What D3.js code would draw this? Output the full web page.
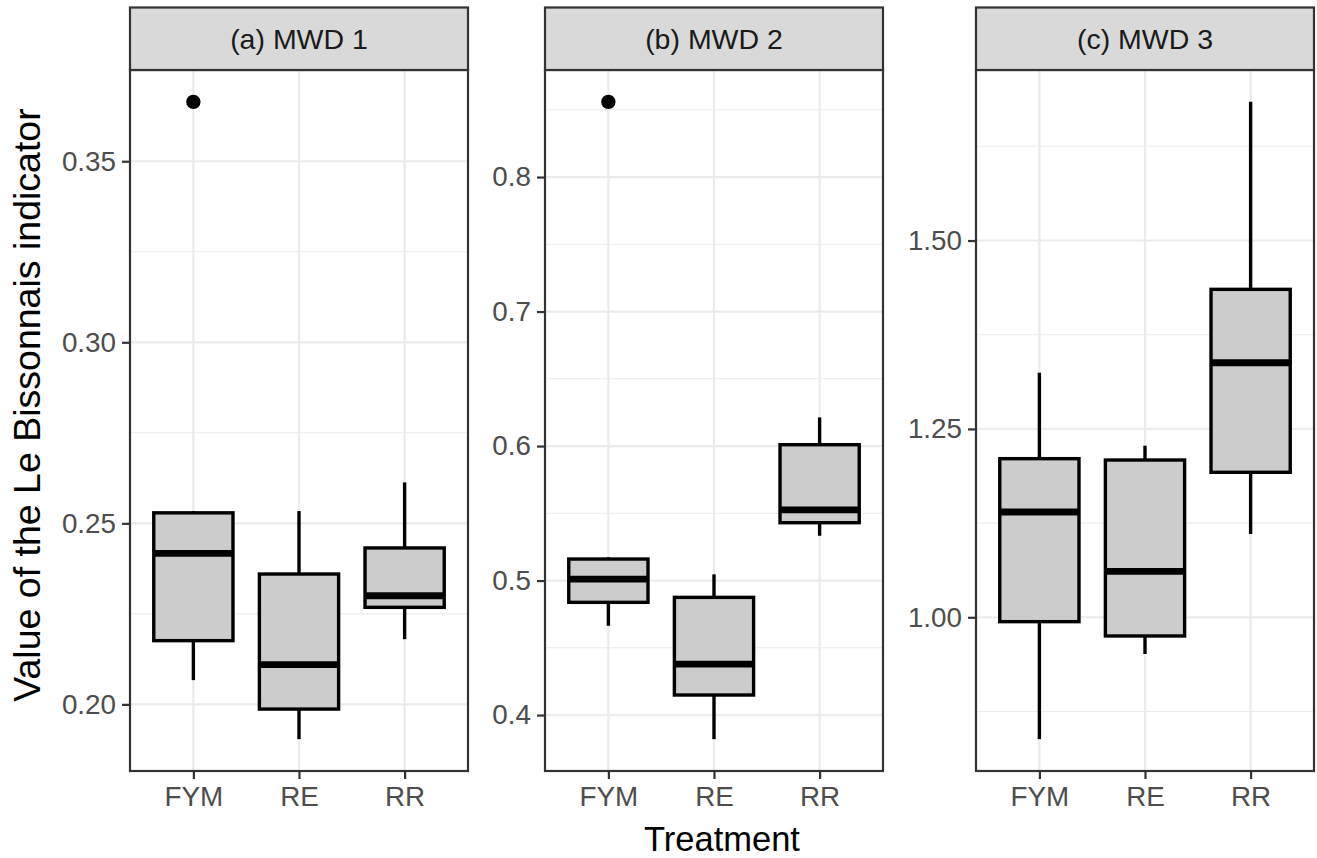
<!DOCTYPE html>
<html>
<head>
<meta charset="utf-8">
<script src="https://cdn.jsdelivr.net/npm/d3@7"></script>
<style>
  html, body { margin: 0; padding: 0; background: #ffffff; }
  svg { display: block; font-family: "Liberation Sans", Arial, Helvetica, sans-serif; }
</style>
</head>
<body>
<svg id="chart" width="1317" height="858"></svg>
<script>
// ---------------- data ----------------
const categories = ["FYM", "RE", "RR"];
const panelTitles = ["(a) MWD 1", "(b) MWD 2", "(c) MWD 3"];

// box statistics per panel: [lowerWhisker, Q1, median, Q3, upperWhisker]
const mwd1Stats = [
  [0.2067, 0.2176, 0.2417, 0.2529, 0.2534],
  [0.1904, 0.1987, 0.2110, 0.2360, 0.2534],
  [0.2180, 0.2268, 0.2300, 0.2432, 0.2613]
];
const mwd2Stats = [
  [0.4664, 0.4838, 0.5011, 0.5160, 0.5173],
  [0.3821, 0.4149, 0.4379, 0.4875, 0.5046],
  [0.5333, 0.5430, 0.5526, 0.6010, 0.6213]
];
const mwd3Stats = [
  [0.8383, 0.9942, 1.1397, 1.2105, 1.3246],
  [0.9513, 0.9752, 1.0610, 1.2087, 1.2277],
  [1.1105, 1.1924, 1.3378, 1.4352, 1.6840]
];
// outliers per panel: [category, value]
const mwd1Outliers = [["FYM", 0.3664]];
const mwd2Outliers = [["FYM", 0.8559]];
const mwd3Outliers = [];

// axis breaks
const mwd1Ticks = [0.20, 0.25, 0.30, 0.35];
const mwd1TickLabels = ["0.20", "0.25", "0.30", "0.35"];
const mwd1Minor = [0.225, 0.275, 0.325, 0.375];
const mwd2Ticks = [0.4, 0.5, 0.6, 0.7, 0.8];
const mwd2TickLabels = ["0.4", "0.5", "0.6", "0.7", "0.8"];
const mwd2Minor = [0.35, 0.45, 0.55, 0.65, 0.75, 0.85];
const mwd3Ticks = [1.00, 1.25, 1.50];
const mwd3TickLabels = ["1.00", "1.25", "1.50"];
const mwd3Minor = [0.875, 1.125, 1.375, 1.625];

const xTitle = "Treatment";
const yTitle = "Value of the Le Bissonnais indicator";

// ---------------- layout ----------------
const panels = [
  { title: panelTitles[0], stats: mwd1Stats, outliers: mwd1Outliers, ticks: mwd1Ticks, labels: mwd1TickLabels, minor: mwd1Minor, x0: 130, x1: 468 },
  { title: panelTitles[1], stats: mwd2Stats, outliers: mwd2Outliers, ticks: mwd2Ticks, labels: mwd2TickLabels, minor: mwd2Minor, x0: 545, x1: 883 },
  { title: panelTitles[2], stats: mwd3Stats, outliers: mwd3Outliers, ticks: mwd3Ticks, labels: mwd3TickLabels, minor: mwd3Minor, x0: 976, x1: 1314 }
];
const stripTop = 7.5, panelTop = 70, panelBottom = 771;
const tickFont = 27.8, stripFont = 28.5, titleFont = 34.5, yTitleFont = 37.5;
const borderColor = "#333333";

const svg = d3.select("#chart");

panels.forEach(p => {
  const allVals = p.stats.flat().concat(p.outliers.map(o => o[1]));
  const lo = d3.min(allVals), hi = d3.max(allVals);
  const pad = (hi - lo) * 0.05;
  const y = d3.scaleLinear().domain([lo - pad, hi + pad]).range([panelBottom, panelTop]);
  const x = d3.scalePoint().domain(categories).range([p.x0, p.x1]).padding(0.6);
  const bw = x.step() * 0.75;

  const g = svg.append("g");

  // panel background
  g.append("rect").attr("x", p.x0).attr("y", panelTop).attr("width", p.x1 - p.x0).attr("height", panelBottom - panelTop).attr("fill", "#ffffff");

  const [d0, d1] = y.domain();
  // minor gridlines
  g.selectAll(".minor").data(p.minor.filter(v => v >= d0 && v <= d1)).enter().append("line")
    .attr("x1", p.x0).attr("x2", p.x1).attr("y1", d => y(d)).attr("y2", d => y(d))
    .attr("stroke", "#EBEBEB").attr("stroke-width", 1.1);
  // major gridlines y
  g.selectAll(".majory").data(p.ticks).enter().append("line")
    .attr("x1", p.x0).attr("x2", p.x1).attr("y1", d => y(d)).attr("y2", d => y(d))
    .attr("stroke", "#EBEBEB").attr("stroke-width", 2.2);
  // major gridlines x
  g.selectAll(".majorx").data(categories).enter().append("line")
    .attr("x1", d => x(d)).attr("x2", d => x(d)).attr("y1", panelTop).attr("y2", panelBottom)
    .attr("stroke", "#EBEBEB").attr("stroke-width", 2.2);

  // boxplots
  p.stats.forEach((s, i) => {
    const cx = x(categories[i]);
    const [wl, q1, med, q3, wh] = s;
    g.append("line").attr("x1", cx).attr("x2", cx).attr("y1", y(q3)).attr("y2", y(wh)).attr("stroke", "#000").attr("stroke-width", 3.4);
    g.append("line").attr("x1", cx).attr("x2", cx).attr("y1", y(q1)).attr("y2", y(wl)).attr("stroke", "#000").attr("stroke-width", 3.4);
    g.append("rect").attr("x", cx - bw / 2).attr("y", y(q3)).attr("width", bw).attr("height", y(q1) - y(q3))
      .attr("fill", "#CCCCCC").attr("stroke", "#000").attr("stroke-width", 3.4);
    g.append("line").attr("x1", cx - bw / 2).attr("x2", cx + bw / 2).attr("y1", y(med)).attr("y2", y(med)).attr("stroke", "#000").attr("stroke-width", 6.8);
  });
  // outliers
  g.selectAll(".out").data(p.outliers).enter().append("circle")
    .attr("cx", d => x(d[0])).attr("cy", d => y(d[1])).attr("r", 7.2).attr("fill", "#000");

  // panel border
  g.append("rect").attr("x", p.x0).attr("y", panelTop).attr("width", p.x1 - p.x0).attr("height", panelBottom - panelTop)
    .attr("fill", "none").attr("stroke", borderColor).attr("stroke-width", 2.2);

  // strip
  g.append("rect").attr("x", p.x0).attr("y", stripTop).attr("width", p.x1 - p.x0).attr("height", panelTop - stripTop)
    .attr("fill", "#D9D9D9").attr("stroke", borderColor).attr("stroke-width", 2.2);
  g.append("text").attr("x", (p.x0 + p.x1) / 2).attr("y", (stripTop + panelTop) / 2 + stripFont * 0.358)
    .attr("text-anchor", "middle").attr("font-size", stripFont).attr("fill", "#1A1A1A").text(p.title);

  // y axis
  const yAxis = d3.axisLeft(y).tickValues(p.ticks).tickFormat((d, i) => p.labels[i]).tickSize(8).tickPadding(6);
  const ya = g.append("g").attr("transform", `translate(${p.x0},0)`).call(yAxis);
  ya.select(".domain").remove();
  ya.selectAll(".tick line").attr("stroke", borderColor).attr("stroke-width", 2.2);
  ya.selectAll(".tick text").attr("font-size", tickFont).attr("fill", "#4D4D4D").attr("font-family", null);

  // x axis
  const xAxis = d3.axisBottom(x).tickSize(8).tickPadding(7);
  const xa = g.append("g").attr("transform", `translate(0,${panelBottom})`).call(xAxis);
  xa.select(".domain").remove();
  xa.selectAll(".tick line").attr("stroke", borderColor).attr("stroke-width", 2.2);
  xa.selectAll(".tick text").attr("font-size", tickFont).attr("fill", "#4D4D4D").attr("font-family", null);
});

// axis titles
svg.append("text").attr("x", (panels[0].x0 + panels[2].x1) / 2).attr("y", 851)
  .attr("text-anchor", "middle").attr("font-size", titleFont).attr("fill", "#000").text(xTitle);
svg.append("text").attr("transform", `translate(40,405) rotate(-90)`)
  .attr("text-anchor", "middle").attr("font-size", yTitleFont).attr("fill", "#000").text(yTitle);
</script>
</body>
</html>
